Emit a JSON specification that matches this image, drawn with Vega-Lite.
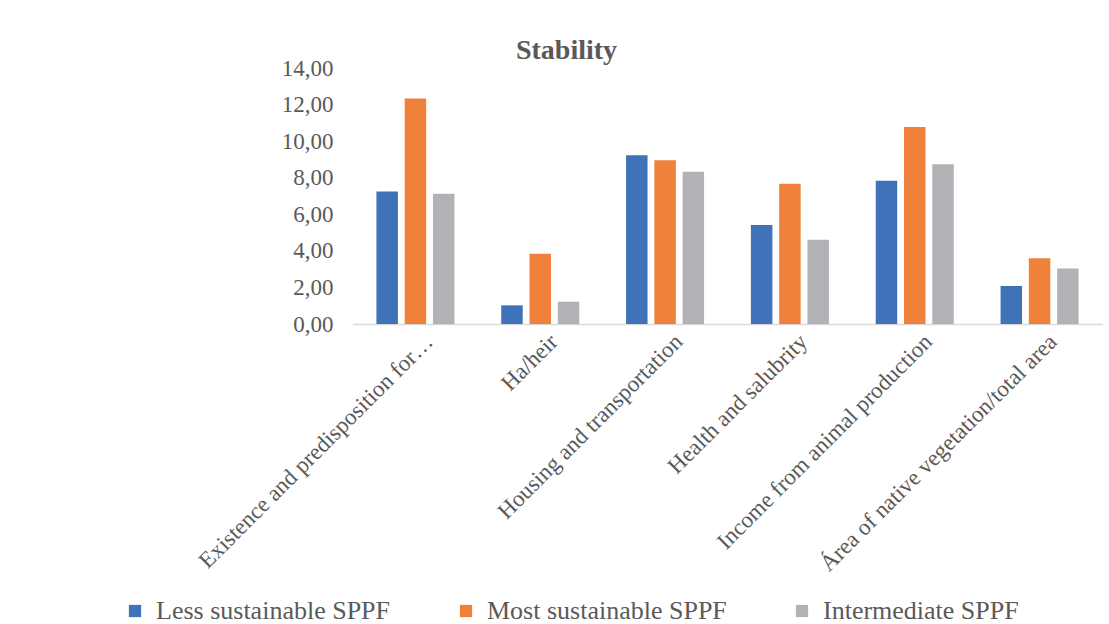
{
  "$schema": "https://vega.github.io/schema/vega-lite/v6.json",
  "width": 749,
  "height": 256,
  "autosize": {"type": "none"},
  "padding": {"left": 353, "top": 68, "right": 7, "bottom": 300},
  "background": "white",
  "title": {
    "text": "Stability",
    "font": "Liberation Serif",
    "fontSize": 28,
    "fontWeight": "bold",
    "color": "#595959",
    "frame": "group",
    "anchor": "middle",
    "dx": -161,
    "offset": -8
  },
  "data": {
    "values": [
      {"category": "Existence and predisposition for…", "series": "Less sustainable SPPF", "value": 7.25},
      {"category": "Existence and predisposition for…", "series": "Most sustainable SPPF", "value": 12.33},
      {"category": "Existence and predisposition for…", "series": "Intermediate SPPF", "value": 7.12},
      {"category": "Ha/heir", "series": "Less sustainable SPPF", "value": 1.02},
      {"category": "Ha/heir", "series": "Most sustainable SPPF", "value": 3.84},
      {"category": "Ha/heir", "series": "Intermediate SPPF", "value": 1.22},
      {"category": "Housing and transportation", "series": "Less sustainable SPPF", "value": 9.23},
      {"category": "Housing and transportation", "series": "Most sustainable SPPF", "value": 8.95},
      {"category": "Housing and transportation", "series": "Intermediate SPPF", "value": 8.33},
      {"category": "Health and salubrity", "series": "Less sustainable SPPF", "value": 5.42},
      {"category": "Health and salubrity", "series": "Most sustainable SPPF", "value": 7.67},
      {"category": "Health and salubrity", "series": "Intermediate SPPF", "value": 4.61},
      {"category": "Income from animal production", "series": "Less sustainable SPPF", "value": 7.84},
      {"category": "Income from animal production", "series": "Most sustainable SPPF", "value": 10.77},
      {"category": "Income from animal production", "series": "Intermediate SPPF", "value": 8.74},
      {"category": "Área of native vegetation/total area", "series": "Less sustainable SPPF", "value": 2.08},
      {"category": "Área of native vegetation/total area", "series": "Most sustainable SPPF", "value": 3.6},
      {"category": "Área of native vegetation/total area", "series": "Intermediate SPPF", "value": 3.04}
    ]
  },
  "mark": {"type": "bar"},
  "encoding": {
    "x": {
      "field": "category",
      "type": "nominal",
      "sort": null,
      "scale": {"paddingInner": 0.375, "paddingOuter": 0.1875},
      "axis": {
        "title": null,
        "labelAngle": -45,
        "labelFont": "Liberation Serif",
        "labelFontSize": 23,
        "labelColor": "#595959",
        "labelPadding": 6,
        "labelOffset": 6,
        "labelLimit": 500,
        "ticks": false,
        "domain": true,
        "domainColor": "#d9d9d9",
        "domainWidth": 1.5
      }
    },
    "xOffset": {
      "field": "series",
      "type": "nominal",
      "sort": ["Less sustainable SPPF", "Most sustainable SPPF", "Intermediate SPPF"],
      "scale": {"paddingInner": 0.24, "paddingOuter": 0}
    },
    "y": {
      "field": "value",
      "type": "quantitative",
      "scale": {"domain": [0, 14], "nice": false},
      "axis": {
        "title": null,
        "values": [0, 2, 4, 6, 8, 10, 12, 14],
        "labelExpr": "replace(format(datum.value, '.2f'), '.', ',')",
        "labelFont": "Liberation Serif",
        "labelFontSize": 23,
        "labelColor": "#595959",
        "labelPadding": 20,
        "grid": false,
        "domain": false,
        "ticks": false
      }
    },
    "color": {
      "field": "series",
      "type": "nominal",
      "sort": ["Less sustainable SPPF", "Most sustainable SPPF", "Intermediate SPPF"],
      "scale": {
        "domain": ["Less sustainable SPPF", "Most sustainable SPPF", "Intermediate SPPF"],
        "range": ["#3F72B9", "#F0813B", "#B1B2B5"]
      },
      "legend": {
        "title": null,
        "orient": "none",
        "direction": "horizontal",
        "legendX": -231,
        "legendY": 530,
        "symbolType": "square",
        "symbolSize": 150,
        "symbolStrokeWidth": 0,
        "labelFont": "Liberation Serif",
        "labelFontSize": 26,
        "labelColor": "#595959",
        "labelOffset": 8,
        "columnPadding": 62,
        "labelLimit": 400
      }
    }
  },
  "config": {"view": {"stroke": null}}
}
